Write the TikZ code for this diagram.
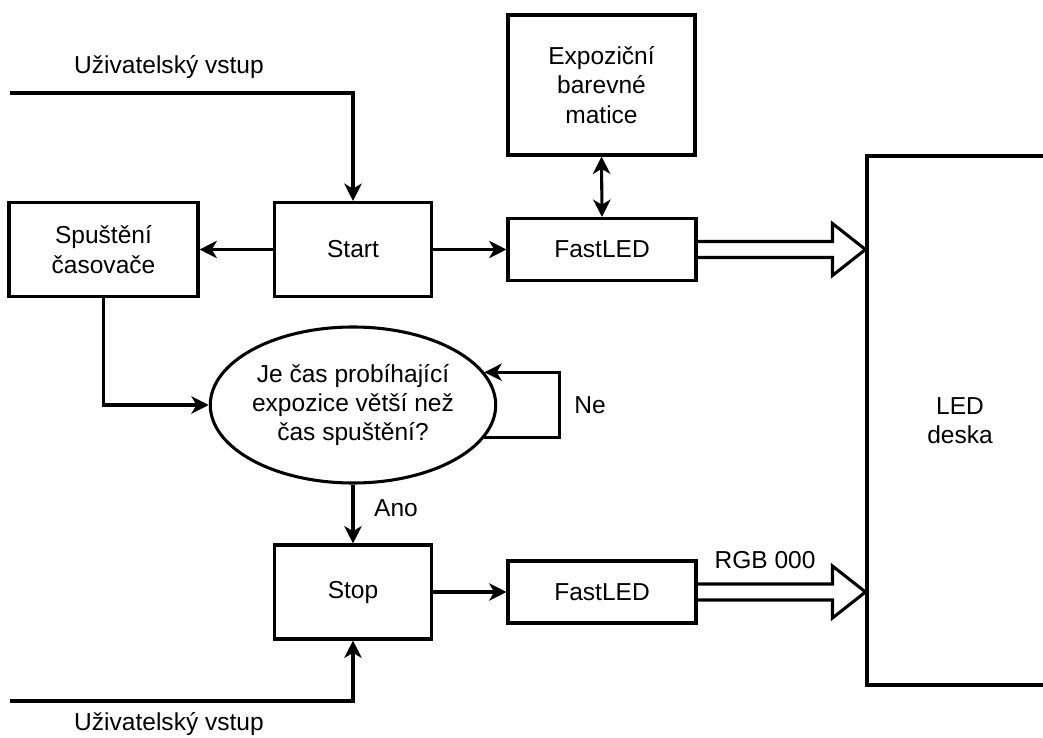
\documentclass[tikz,border=0pt]{standalone}
\usepackage{fontspec}
\setmainfont{Liberation Sans}
\usetikzlibrary{arrows.meta,shapes.geometric,calc}
\begin{document}
\begin{tikzpicture}[x=0.75pt,y=-0.75pt,line width=2.3pt,
  every node/.style={font=\fontsize{18.4}{22}\selectfont},
  box/.style={draw, inner sep=0pt, align=center},
  arr/.style={-{Stealth[length=13pt,width=13pt,inset=3.8pt]}},
  darr/.style={{Stealth[length=13pt,width=13pt,inset=3.8pt]}-{Stealth[length=13pt,width=13pt,inset=3.8pt]}},
  hollow/.style={line join=miter}]
\useasboundingbox (0,0) rectangle (1043,738);
\clip (0,0) rectangle (1043,738);
% boxes
\node[box, minimum width=141.75pt, minimum height=70.5pt] (spus) at (103.5,249.5) {Spuštění\\časovače};
\node[box, minimum width=117.75pt, minimum height=70.5pt] (start) at (353,249.5) {Start};
\node[box, minimum width=140.25pt, minimum height=105pt] (expo) at (601.5,85) {Expoziční\\barevné\\matice};
\node[box, minimum width=141pt, minimum height=46.5pt] (fl1) at (602,249.5) {FastLED};
\node[draw, ellipse, inner sep=0pt, align=center, minimum width=212.25pt, minimum height=117pt] (ell) at (353,405) {Je čas probíhající\\expozice větší než\\čas spuštění?};
\node[box, minimum width=117.75pt, minimum height=70.5pt] (stop) at (353,592) {Stop};
\node[box, minimum width=141pt, minimum height=46.5pt] (fl2) at (602,592) {FastLED};
\node[box, minimum width=139.5pt, minimum height=396.75pt] (led) at (960,420.5) {LED\\deska};
% labels
\node (in1t) at (169,67) {Uživatelský vstup};
\node (in2t) at (169,724) {Uživatelský vstup};
\node (ne) at (590,405.5) {Ne};
\node (ano) at (396,508.5) {Ano};
\node (rgb) at (765,560) {RGB 000};
% free ends
\coordinate (in1) at (10,93);
\coordinate (in2) at (10,701);
% connectors
\draw[arr] (in1) -| (start.north);
\draw[arr] (start.west) -- (spus.east);
\draw[arr] (start.east) -- (fl1.west);
\draw[darr] (expo.south) -- (fl1.north);
\draw[arr] (spus.south) |- (ell.west);
\draw[arr] (ell.-14) -- ++(75,0) |- (ell.14);
\draw[arr] (ell.south) -- (stop.north);
\draw[arr] (stop.east) -- (fl2.west);
\draw[arr] (in2) -| (stop.south);
% hollow arrows
\coordinate (h1) at (led.west |- fl1.east);
\coordinate (h2) at (led.west |- fl2.east);
\draw[hollow] ($(fl1.east)+(0,-8)$) -- ($(h1)+(-33,-8)$) -- ($(h1)+(-33,-26)$) -- (h1) -- ($(h1)+(-33,26)$) -- ($(h1)+(-33,8)$) -- ($(fl1.east)+(0,8)$);
\draw[hollow] ($(fl2.east)+(0,-8)$) -- ($(h2)+(-33,-8)$) -- ($(h2)+(-33,-26)$) -- (h2) -- ($(h2)+(-33,26)$) -- ($(h2)+(-33,8)$) -- ($(fl2.east)+(0,8)$);
\end{tikzpicture}
\end{document}
